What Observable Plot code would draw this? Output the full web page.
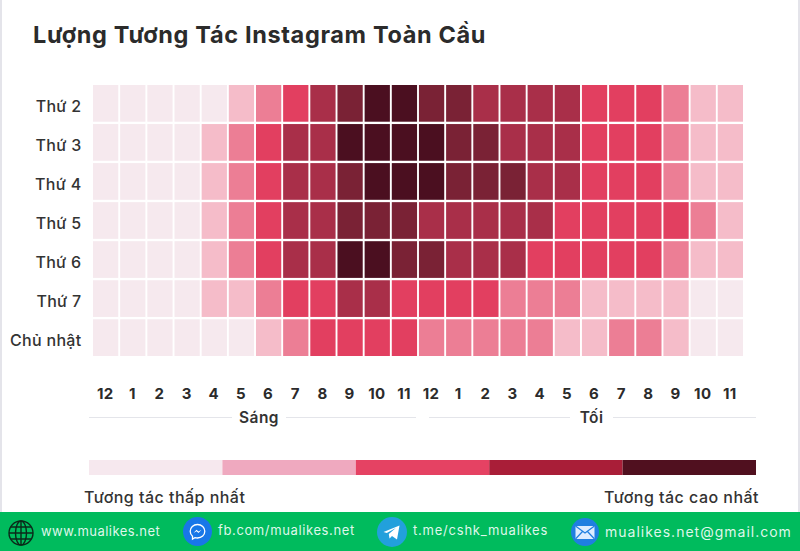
<!DOCTYPE html>
<html lang="vi">
<head>
<meta charset="utf-8">
<title>Lượng Tương Tác Instagram Toàn Cầu</title>
<script src="https://cdn.jsdelivr.net/npm/d3@7"></script>
<script src="https://cdn.jsdelivr.net/npm/@observablehq/plot@0.6"></script>
<style>
html,body{margin:0;padding:0;background:#fff;overflow:hidden}
#page{position:relative;width:800px;height:551px;overflow:hidden;font-family:Inter,"Noto Sans",sans-serif;color:#2f2f33}
#page svg{display:block}
.abs{position:absolute;white-space:nowrap}
#title{left:33px;top:20px;font-size:23.5px;font-weight:700;line-height:30px;color:#2b2b2b;letter-spacing:.65px}
#edgeL,#edgeR{position:absolute;top:0;height:512px;width:2px;background:#e4e4ea}
#edgeL{left:0}#edgeR{right:0}
#heat text{letter-spacing:.3px}
.period{position:absolute;top:407px;height:20px;display:flex;align-items:center;font-size:15.5px;font-weight:600;color:#333;letter-spacing:.4px}
.period i{height:1px;background:#e4e5ea;flex:none}
.period span{flex:1;text-align:center}
.lg{top:487px;font-size:16px;font-weight:500;line-height:20px;color:#333;letter-spacing:.47px}
#footer{position:absolute;left:0;top:512px;width:800px;height:39px;background:#00bb5d;color:#dff7ea;font-size:13px}
#footer span{position:absolute;top:11px;line-height:17px;white-space:nowrap}
#footer svg{position:absolute}
</style>
</head>
<body>
<div id="page">
  <div id="edgeL"></div><div id="edgeR"></div>
  <div id="title" class="abs">Lượng Tương Tác Instagram Toàn Cầu</div>
  <div id="heat" class="abs" style="left:0;top:0"></div>
  <div class="period" style="left:89px;width:327px"><i style="width:143px"></i><span>Sáng</span><i style="width:130px"></i></div>
  <div class="period" style="left:429px;width:327px"><i style="width:141px"></i><span>Tối</span><i style="width:143px"></i></div>
  <div id="legend" class="abs" style="left:0;top:460px"></div>
  <div class="abs lg" style="left:84px">Tương tác thấp nhất</div>
  <div class="abs lg" style="right:41px">Tương tác cao nhất</div>
  <div id="footer">
    <svg style="left:8px;top:8px" width="26" height="26" viewBox="0 0 26 26" fill="none" stroke="#0b2a1a" stroke-width="1.4"><circle cx="13" cy="13" r="12"/><ellipse cx="13" cy="13" rx="5.5" ry="12"/><path d="M13 1v24M1 13h24M3 7h20M3 19h20"/></svg>
    <span style="left:41px;letter-spacing:.45px">www.mualikes.net</span>
    <svg style="left:183px;top:5px" width="29" height="29" viewBox="0 0 29 29"><circle cx="14.5" cy="14.5" r="14.5" fill="#1877e8"/><path d="M14.5 7.5c-4.2 0-7.3 3-7.3 6.8 0 2 .9 3.8 2.3 5v2.7l2.4-1.4c.8.3 1.7.4 2.6.4 4.200 0 7.300-3 7.300-6.700s-3.100-6.800-7.300-6.800z" fill="none" stroke="#fff" stroke-width="1.300"/><path d="M10.500 16l3-3.200 2 1.700 3-1.700-3 3.200-2-1.700z" fill="#fff"/></svg>
    <span style="left:218px;top:10px;letter-spacing:.62px">fb.com/mualikes.net</span>
    <svg style="left:377px;top:5px" width="30" height="30" viewBox="0 0 30 30"><circle cx="15" cy="15" r="15" fill="#22a0dc"/><path d="M6.500 15l16-6.500-2.500 14-5-3.500-2.500 2.500-.7-4.500 7-6-9 5z" fill="#fff"/></svg>
    <span style="left:413px;top:10px;letter-spacing:.78px">t.me/cshk_mualikes</span>
    <svg style="left:571px;top:6px" width="28" height="28" viewBox="0 0 28 28"><circle cx="14" cy="14" r="14" fill="#1f7fe0"/><rect x="4.500" y="8" width="19" height="13" fill="#dcecff"/><path d="M4.500 8l9.500 7 9.500-7M4.500 21l7-7.500M23.500 21l-7-7.500" fill="none" stroke="#1f7fe0" stroke-width="1.200"/></svg>
    <span style="left:605px;font-size:14px;letter-spacing:1px">mualikes.net@gmail.com</span>
  </div>
</div>
<script>
const days = ["Thứ 2", "Thứ 3", "Thứ 4", "Thứ 5", "Thứ 6", "Thứ 7", "Chủ nhật"];
const hourLabels = ["12","1","2","3","4","5","6","7","8","9","10","11","12","1","2","3","4","5","6","7","8","9","10","11"];
const thu2 = [0,0,0,0,0,1,2,3,4,5,6,6,5,5,4,4,4,4,3,3,3,2,1,1];
const thu3 = [0,0,0,0,1,2,3,4,4,6,6,6,6,5,5,4,4,4,3,3,3,2,1,1];
const thu4 = [0,0,0,0,1,2,3,4,4,5,6,6,6,5,5,5,4,4,3,3,3,2,1,1];
const thu5 = [0,0,0,0,1,2,3,4,4,5,5,5,4,4,4,4,4,3,3,3,3,3,2,1];
const thu6 = [0,0,0,0,1,2,3,4,4,6,6,5,5,4,4,4,3,3,3,3,3,2,1,1];
const thu7 = [0,0,0,0,1,1,2,3,3,4,4,3,3,3,3,2,2,2,1,1,1,1,0,0];
const chuNhat = [0,0,0,0,0,0,1,2,3,3,3,3,2,2,2,2,2,1,1,2,2,1,0,0];
const levels = [0,1,2,3,4,5,6];
const levelColors = ["#f6e9ee","#f5bcc9","#ec7e95","#e23f60","#a92f49","#7a2235","#4b0f20"];
const legendSteps = ["thấp nhất","thấp","trung bình","cao","cao nhất"];
const legendColors = ["#f6e8ee","#efa9bf","#e54263","#a91e38","#50101f"];

const series = [thu2, thu3, thu4, thu5, thu6, thu7, chuNhat];
const table = series.flatMap((vals, d) => vals.map((v, h) => ({day: days[d], hour: h, level: v})));

const heat = Plot.plot({
  width: 800, height: 404,
  marginLeft: 93, marginRight: 57, marginTop: 85, marginBottom: 48,
  style: {background: "transparent", fontFamily: "Inter, 'Noto Sans', sans-serif"},
  x: {type: "band", domain: d3.range(24), paddingInner: 0.07, paddingOuter: 0, round: false, label: null},
  y: {type: "band", domain: days, paddingInner: 0.06, paddingOuter: 0, round: false, label: null},
  color: {type: "ordinal", domain: levels, range: levelColors},
  marks: [
    Plot.cell(table, {x: "hour", y: "day", fill: "level"}),
    Plot.axisY({tickSize: 0, tickPadding: 12, fontSize: 16, fontWeight: 500, fill: "#333", label: null, dy: 3}),
    Plot.axisX({tickSize: 0, tickPadding: 32, fontSize: 15, fontWeight: 700, fill: "#2b2b2b", label: null, dx: -1, tickFormat: i => hourLabels[i]})
  ]
});
document.getElementById("heat").append(heat);

const legend = Plot.plot({
  width: 800, height: 15, margin: 0, marginLeft: 89, marginRight: 44,
  style: {background: "transparent"},
  x: {type: "band", domain: legendSteps, padding: 0, round: false, axis: null},
  y: {axis: null},
  color: {type: "ordinal", domain: legendSteps, range: legendColors},
  marks: [Plot.cell(legendSteps, {x: d => d, fill: d => d})]
});
document.getElementById("legend").append(legend);
</script>
</body>
</html>
